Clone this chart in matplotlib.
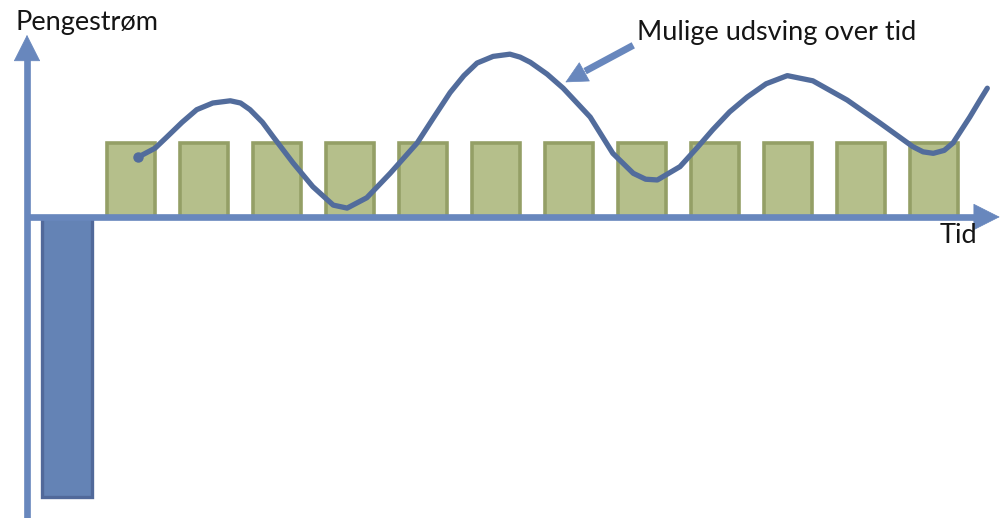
import numpy as np
import matplotlib.pyplot as plt

# periods: 0 = investment, 1..12 = yearly cash inflows
invest_t = [0.12]
invest_val = [-3.78]
period_t = list(range(1, 13))
period_val = [1.0] * 12

# possible fluctuation over time
wave_t = [1.10, 1.33, 1.49, 1.70, 1.90, 2.12, 2.36, 2.50, 2.63, 2.80, 2.95, 3.22,
          3.49, 3.77, 3.96, 4.23, 4.55, 4.92, 5.15, 5.37, 5.56, 5.74, 5.96, 6.19,
          6.33, 6.47, 6.70, 6.92, 7.29, 7.60, 7.88, 8.05, 8.21, 8.52, 8.75, 8.97,
          9.20, 9.44, 9.70, 9.99, 10.34, 10.81, 11.26, 11.71, 11.85, 11.99, 12.14,
          12.26, 12.49, 12.63, 12.73]
wave_v = [0.81, 0.93, 1.08, 1.28, 1.45, 1.54, 1.57, 1.54, 1.45, 1.28, 1.08, 0.73,
          0.41, 0.16, 0.12, 0.26, 0.59, 1.00, 1.35, 1.68, 1.91, 2.08, 2.17, 2.20,
          2.16, 2.09, 1.93, 1.74, 1.35, 0.86, 0.59, 0.51, 0.50, 0.68, 0.93, 1.18,
          1.42, 1.62, 1.80, 1.91, 1.84, 1.58, 1.27, 0.95, 0.88, 0.86, 0.90, 1.00,
          1.35, 1.58, 1.74]

plt.rcParams['font.family'] = ['Lato', 'DejaVu Sans']

fig = plt.figure(figsize=(10.06, 5.18), dpi=100)
ax = fig.add_axes([0, 0, 1, 1])
ax.set_xlim(-0.795, 12.986)
ax.set_ylim(-4.068, 2.932)
ax.axis('off')

axis_col = '#6887bd'
txt_col = '#151515'

ax.bar(period_t, period_val, width=0.66, color='#b5bf8b', edgecolor='#949f66',
       linewidth=2.6, zorder=2)
ax.bar(invest_t, invest_val, width=0.68, color='#6483b5', edgecolor='#51699a',
       linewidth=2.4, zorder=2)

# axis lines
ax.plot([-0.45, 12.6], [0, 0], color=axis_col, lw=4.8, solid_capstyle='butt', zorder=3)
ax.plot([-0.425, -0.425], [-4.1, 2.2], color=axis_col, lw=4.8, solid_capstyle='butt', zorder=3)
# arrow heads
ax.annotate('', xy=(12.90, 0), xytext=(12.3, 0),
            arrowprops=dict(arrowstyle='-|>,head_length=0.95,head_width=0.48',
                            color=axis_col, lw=0.5, shrinkA=0, shrinkB=0,
                            mutation_scale=19), zorder=3)
ax.annotate('', xy=(-0.425, 2.46), xytext=(-0.425, 1.9),
            arrowprops=dict(arrowstyle='-|>,head_length=0.95,head_width=0.48',
                            color=axis_col, lw=0.5, shrinkA=0, shrinkB=0,
                            mutation_scale=19), zorder=3)

ax.plot(wave_t, wave_v, color='#526c9c', lw=3.8, solid_joinstyle='round',
        solid_capstyle='round', zorder=4)
ax.plot(wave_t[0], wave_v[0], 'o', color='#526c9c', ms=6.5, zorder=4)

ax.text(-0.589, 2.53, 'Pengestrøm', fontsize=19.5, color=txt_col,
        ha='left', va='baseline')
ax.text(12.08, -0.35, 'Tid', fontsize=19.5, color=txt_col,
        ha='left', va='baseline')
ax.text(7.93, 2.39, 'Mulige udsving over tid', fontsize=19.5, color=txt_col,
        ha='left', va='baseline')

# pointer from label to the wave
ax.plot([7.88, 7.22], [2.32, 1.97], color=axis_col, lw=5, solid_capstyle='butt', zorder=4)
ax.annotate('', xy=(6.95, 1.82), xytext=(7.3, 2.01),
            arrowprops=dict(arrowstyle='-|>,head_length=1.0,head_width=0.5',
                            color=axis_col, lw=0.5, shrinkA=0, shrinkB=0,
                            mutation_scale=15), zorder=4)

fig.savefig('out.png', dpi=100)
